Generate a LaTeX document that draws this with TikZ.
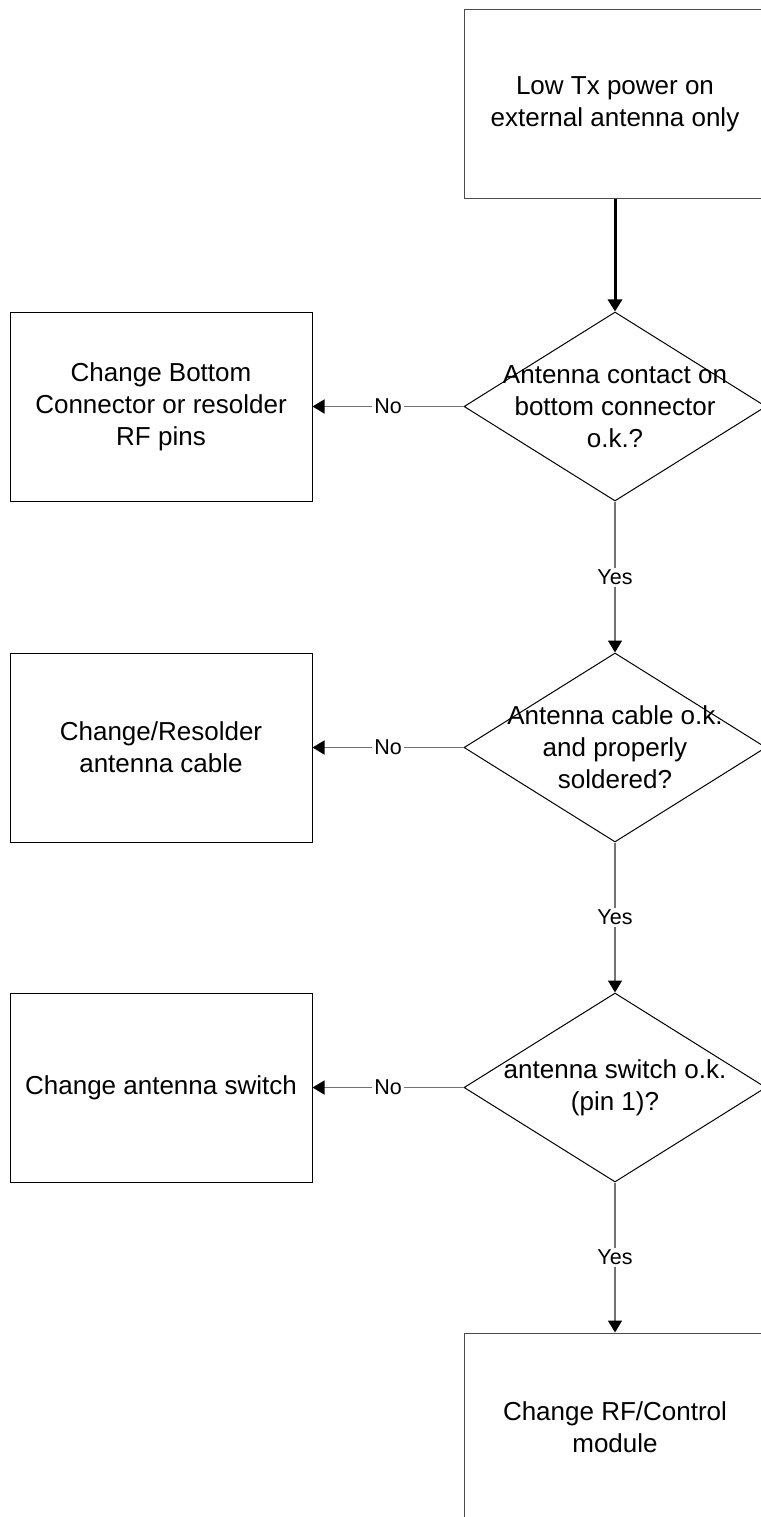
\documentclass[tikz,border=0pt]{standalone}
\usepackage{fontspec}
\setmainfont{Liberation Sans}
\usetikzlibrary{shapes.geometric}
\usetikzlibrary{arrows.meta}

\begin{document}
\begin{tikzpicture}[line cap=butt,line join=miter,x=1pt,y=1pt,
    >={Triangle[length=12pt,width=14pt,black]},
    box/.style={rectangle, draw=black, line width=1pt, minimum width=302pt, minimum height=189pt, inner sep=0pt, align=center, font=\fontsize{26}{32}\selectfont},
    mainbox/.style={box, draw=black!70},
    test/.style={diamond, draw=black, line width=1pt, minimum width=302pt, minimum height=189pt, inner sep=0pt},
    testtext/.style={align=center, font=\fontsize{26}{32}\selectfont},
    link/.style={draw=black!55, line width=1.6pt, ->},
    answer/.style={fill=white, inner sep=2pt, text=black, font=\fontsize{21.5}{24}\selectfont}]
    \useasboundingbox (0,0) rectangle (760,-1517);

    % right column
    \node[mainbox] (start) at (615,-104.5) {Low Tx power on\\external antenna only};
    \node[test] (q1) at (615,-406.5) {};
    \node[testtext] (q1t) at (q1) {Antenna contact on\\bottom connector\\o.k.?};
    \node[test] (q2) at (615,-747.5) {};
    \node[testtext] (q2t) at (q2) {Antenna cable o.k.\\and properly\\soldered?};
    \node[test] (q3) at (615,-1087.5) {};
    \node[testtext] (q3t) at (q3) {antenna switch o.k.\\(pin 1)?};
    \node[mainbox] (rfmod) at (615,-1427.5) {Change RF/Control\\module};

    % left column
    \node[box] (fix1) at (161,-406.5) {Change Bottom\\Connector or resolder\\RF pins};
    \node[box] (fix2) at (161,-747.5) {Change/Resolder\\antenna cable};
    \node[box] (fix3) at (161,-1087.5) {Change antenna switch};

    \draw [->, line width=3pt, black] (start) -- (q1);

    \draw [link] (q1.south) -- node[answer] {Yes} (q2.north);
    \draw [link] (q2.south) -- node[answer] {Yes} (q3.north);
    \draw [link] (q3.south) -- node[answer] {Yes} (rfmod.north);

    \draw [link] (q1.west) -- node[answer] {No} (fix1.east);
    \draw [link] (q2.west) -- node[answer] {No} (fix2.east);
    \draw [link] (q3.west) -- node[answer] {No} (fix3.east);
\end{tikzpicture}
\end{document}
